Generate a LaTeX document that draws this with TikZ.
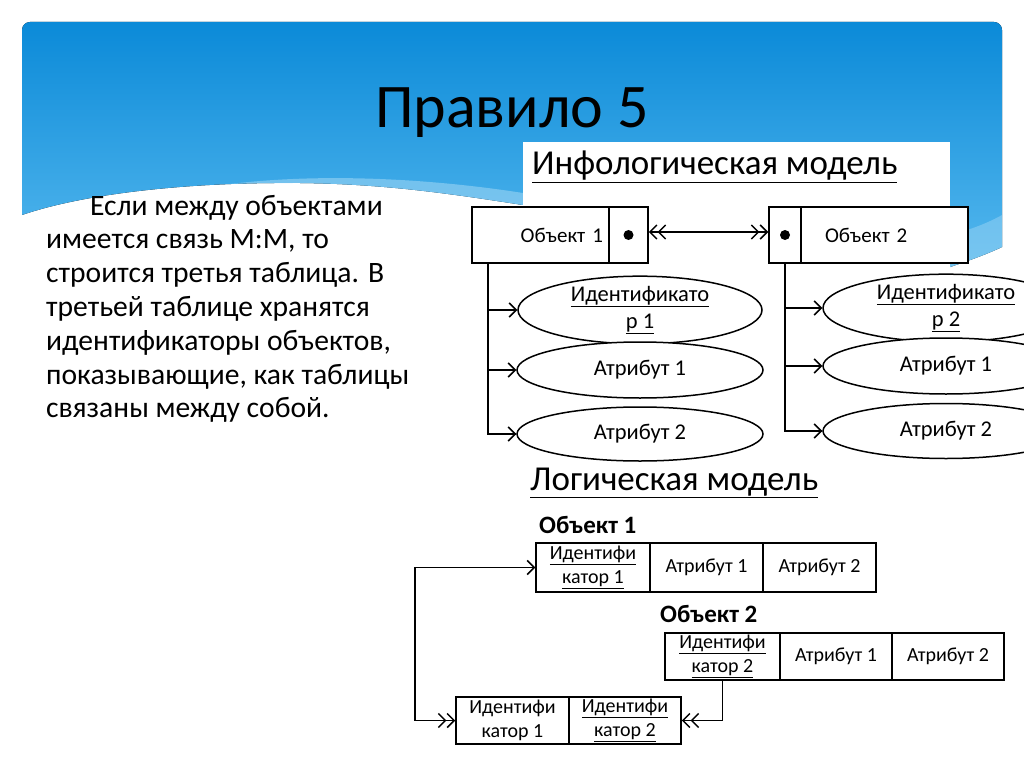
\documentclass[tikz,border=0pt]{standalone}
\usepackage{fontspec}
\setmainfont{Carlito}
\usetikzlibrary{arrows.meta,shapes.geometric}
\newcommand{\fsz}[2]{\fontsize{#1}{#2}\selectfont}
\definecolor{blueT}{HTML}{0B8AD8}
\definecolor{blueB}{HTML}{55B8EE}
\definecolor{streak}{HTML}{9AD4F4}
\tikzset{
  ln/.style={line width=1.5pt},
  objcell/.style={draw, ln, fill=white, minimum height=56pt, inner sep=0pt, font=\fsz{21}{25}},
  ell/.style={draw, ln, ellipse, fill=white, inner sep=0pt, align=center, font=\fsz{22.5}{27}},
  cell/.style={draw, ln, fill=white, minimum height=48pt, inner sep=0pt, align=center, font=\fsz{20}{24}},
  body/.style={anchor=base west, inner sep=0pt, font=\fsz{29.6}{34}},
  head/.style={anchor=base west, inner sep=0pt, font=\fsz{35}{40}},
  bold/.style={anchor=base west, inner sep=0pt, font=\bfseries\fsz{25}{30}},
  one/.style={-{Straight Barb[length=7pt,width=14pt,line width=1.5pt]}},
  two/.style={-{Straight Barb[length=7pt,width=14pt,line width=1.5pt]Straight Barb[length=7pt,width=14pt,line width=1.5pt]}},
  twotwo/.style={{Straight Barb[length=7pt,width=14pt,line width=1.5pt]Straight Barb[length=7pt,width=14pt,line width=1.5pt]}-{Straight Barb[length=7pt,width=14pt,line width=1.5pt]Straight Barb[length=7pt,width=14pt,line width=1.5pt]}},
  twoone/.style={{Straight Barb[length=7pt,width=14pt,line width=1.5pt]Straight Barb[length=7pt,width=14pt,line width=1.5pt]}-{Straight Barb[length=7pt,width=14pt,line width=1.5pt]}}
}
\begin{document}
\begin{tikzpicture}[x=1pt,y=-1pt]
\useasboundingbox (0,0) rectangle (1024,767);
\fill[white] (0,0) rectangle (1024,767);
% blue header
\fill[top color=blueT, bottom color=blueB] (22,215) [rounded corners=8pt] -- (22,22) -- (1002,22) [sharp corners] -- (1002,247)
  .. controls (985,255) and (965,262) .. (950,267) -- (700,240) -- (523,205)
  .. controls (440,192) and (380,184) .. (300,183)
  .. controls (180,182) and (80,195) .. (22,215) -- cycle;
\fill[streak, opacity=0.6] (230,184) .. controls (330,172) and (440,180) .. (523,193) -- (523,205)
  .. controls (440,192) and (380,184) .. (300,183) .. controls (270,183) and (250,183) .. (230,184) -- cycle;
\fill[streak, opacity=0.5] (950,235) .. controls (970,230) and (990,222) .. (1002,215) -- (1002,247)
  .. controls (985,255) and (965,262) .. (950,267) -- cycle;
% white panel for infological model
\fill[white] (523,142) rectangle (950,300);

% title
\node[anchor=base, inner sep=0pt, font=\fsz{62}{72}] (title) at (512,128) {Правило 5};

% left text
\node[body] (l1) at (90,215) {Если между объектами};
\node[body] (l2) at (46,248.8) {имеется связь М:М, то};
\node[body] (l3) at (46,282.6) {строится третья таблица. В};
\node[body] (l4) at (46,316.4) {третьей таблице хранятся};
\node[body] (l5) at (46,350.2) {идентификаторы объектов,};
\node[body] (l6) at (46,384) {показывающие, как таблицы};
\node[body] (l7) at (46,417.8) {связаны между собой.};

% infological model
\node[head] (ihead) at (532,175) {\underline{Инфологическая модель}};

\node[objcell, minimum width=137pt, text width=125pt, align=right] (o1) at (540.5,235) {Объект 1};
\node[objcell, minimum width=39pt] (d1) at (628.5,235) {};
\fill (d1.center) circle (5);
\node[objcell, minimum width=32pt] (d2) at (785,235) {};
\fill (d2.center) circle (5);
\node[objcell, minimum width=167pt, text width=119pt, align=left] (o2) at (884.5,235) {Объект 2};
\draw[ln, twotwo] ([yshift=3pt]d1.east) -- ([yshift=3pt]d2.west);

\node[ell, minimum width=244pt, minimum height=56pt] (e11) at (640,310) {\underline{Идентификато}\\\underline{р 1}};
\node[ell, minimum width=246pt, minimum height=56pt] (e12) at (640,370) {Атрибут 1};
\node[ell, minimum width=246pt, minimum height=54pt] (e13) at (640,434) {Атрибут 2};
\node[ell, minimum width=246pt, minimum height=56pt] (e21) at (946,308) {\underline{Идентификато}\\\underline{р 2}};
\node[ell, minimum width=246pt, minimum height=56pt] (e22) at (946,366) {Атрибут 1};
\node[ell, minimum width=246pt, minimum height=55pt] (e23) at (946,431) {Атрибут 2};

\coordinate (t1) at (488,263);
\coordinate (t2) at (785,263);
\draw[ln] (t1) |- (e13.west);
\draw[ln, one] (t1 |- e11.west) -- (e11.west);
\draw[ln, one] (t1 |- e12.west) -- (e12.west);
\draw[ln, one] (t1 |- e13.west) -- (e13.west);
\draw[ln] (t2) |- (e23.west);
\draw[ln, one] (t2 |- e21.west) -- (e21.west);
\draw[ln, one] (t2 |- e22.west) -- (e22.west);
\draw[ln, one] (t2 |- e23.west) -- (e23.west);

% logical model
\node[head] (lhead) at (530,490) {\underline{Логическая модель}};
\node[bold] (b1) at (539,533) {Объект 1};
\node[bold] (b2) at (660,622) {Объект 2};

\node[cell, minimum width=114pt, minimum height=49pt] (c11) at (593,567.5) {\underline{Идентифи}\\\underline{катор 1}};
\node[cell, minimum width=113pt, minimum height=49pt] (c12) at (706.5,567.5) {Атрибут 1};
\node[cell, minimum width=113pt, minimum height=49pt] (c13) at (819.5,567.5) {Атрибут 2};

\node[cell, minimum width=115pt, minimum height=47pt] (c21) at (722.5,656.5) {\underline{Идентифи}\\\underline{катор 2}};
\node[cell, minimum width=112pt, minimum height=47pt] (c22) at (836,656.5) {Атрибут 1};
\node[cell, minimum width=112pt, minimum height=47pt] (c23) at (948,656.5) {Атрибут 2};

\node[cell, minimum width=113pt, minimum height=47pt] (c31) at (512.5,720.5) {Идентифи\\катор 1};
\node[cell, minimum width=112pt, minimum height=47pt] (c32) at (625,720.5) {\underline{Идентифи}\\\underline{катор 2}};

\coordinate (bend) at (415,640);
\draw[ln, twoone] (c31.west) -- (c31.west -| bend) |- (c11.west);
\draw[ln, two] (c21.south) |- (c32.east);
\end{tikzpicture}
\end{document}
